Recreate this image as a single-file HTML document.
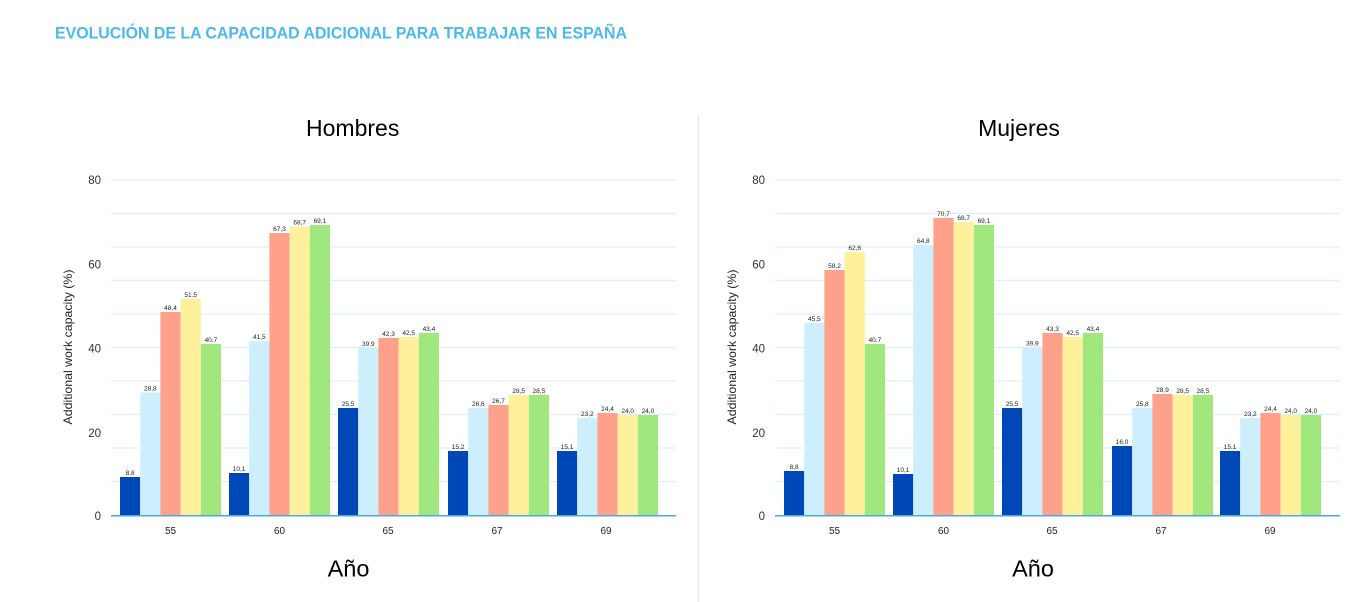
<!DOCTYPE html>
<html><head><meta charset="utf-8"><style>
html,body{margin:0;padding:0;background:#fff;}
svg{display:block;font-family:"Liberation Sans",sans-serif;}
</style></head><body>
<svg width="1371" height="602" viewBox="0 0 1371 602" xmlns="http://www.w3.org/2000/svg">
<text x="55" y="38.3" font-size="16.5" font-weight="bold" fill="#4cb8f0" textLength="572" lengthAdjust="spacingAndGlyphs">EVOLUCIÓN DE LA CAPACIDAD ADICIONAL PARA TRABAJAR EN ESPAÑA</text>
<line x1="698.5" y1="115" x2="698.5" y2="602" stroke="#d5ecf8" stroke-width="1.2"/>

<!-- LEFT CHART -->
<g>
<text x="352.7" y="136" font-size="23" text-anchor="middle" fill="#000">Hombres</text>
<g stroke="#dcf0fa" stroke-width="1.2">
<line x1="111" y1="180" x2="676" y2="180"/><line x1="111" y1="213.5" x2="676" y2="213.5"/><line x1="111" y1="247" x2="676" y2="247"/><line x1="111" y1="280.5" x2="676" y2="280.5"/><line x1="111" y1="314" x2="676" y2="314"/><line x1="111" y1="347.5" x2="676" y2="347.5"/><line x1="111" y1="381" x2="676" y2="381"/><line x1="111" y1="414.5" x2="676" y2="414.5"/><line x1="111" y1="448" x2="676" y2="448"/><line x1="111" y1="481.5" x2="676" y2="481.5"/>
</g>
<g font-size="11.5" fill="#333" text-anchor="end">
<text x="101" y="184">80</text><text x="101" y="268.3">60</text><text x="101" y="352.7">40</text><text x="101" y="437">20</text><text x="101" y="520">0</text>
</g>
<text transform="translate(72,347) rotate(-90)" font-size="12" fill="#222" text-anchor="middle" textLength="155" lengthAdjust="spacingAndGlyphs">Additional work capacity (%)</text>
<g>
<rect x="120" y="477" width="20.2" height="38.3" fill="#0047b8"/>
<rect x="140.2" y="392.5" width="20.2" height="122.8" fill="#cdeefd"/>
<rect x="160.4" y="312" width="20.2" height="203.3" fill="#ffa18a"/>
<rect x="180.6" y="299" width="20.2" height="216.3" fill="#fff09b"/>
<rect x="200.8" y="344" width="20.2" height="171.3" fill="#a0e87e"/>

<rect x="229" y="473" width="20.2" height="42.3" fill="#0047b8"/>
<rect x="249.2" y="341" width="20.2" height="174.3" fill="#cdeefd"/>
<rect x="269.4" y="233" width="20.2" height="282.3" fill="#ffa18a"/>
<rect x="289.6" y="226.5" width="20.2" height="288.8" fill="#fff09b"/>
<rect x="309.8" y="225" width="20.2" height="290.3" fill="#a0e87e"/>

<rect x="338" y="408" width="20.2" height="107.3" fill="#0047b8"/>
<rect x="358.2" y="348" width="20.2" height="167.3" fill="#cdeefd"/>
<rect x="378.4" y="338" width="20.2" height="177.3" fill="#ffa18a"/>
<rect x="398.6" y="337" width="20.2" height="178.3" fill="#fff09b"/>
<rect x="418.8" y="333" width="20.2" height="182.3" fill="#a0e87e"/>

<rect x="448" y="451" width="20.2" height="64.3" fill="#0047b8"/>
<rect x="468.2" y="408" width="20.2" height="107.3" fill="#cdeefd"/>
<rect x="488.4" y="405" width="20.2" height="110.3" fill="#ffa18a"/>
<rect x="508.6" y="395" width="20.2" height="120.3" fill="#fff09b"/>
<rect x="528.8" y="395" width="20.2" height="120.3" fill="#a0e87e"/>

<rect x="557" y="451" width="20.2" height="64.3" fill="#0047b8"/>
<rect x="577.2" y="418" width="20.2" height="97.3" fill="#cdeefd"/>
<rect x="597.4" y="413" width="20.2" height="102.3" fill="#ffa18a"/>
<rect x="617.6" y="415" width="20.2" height="100.3" fill="#fff09b"/>
<rect x="637.8" y="415" width="20.2" height="100.3" fill="#a0e87e"/>
</g>
<g font-size="6.5" fill="#222" text-anchor="middle">
<text x="130.1" y="475">8,8</text><text x="150.3" y="390.5">28,8</text><text x="170.5" y="310">48,4</text><text x="190.7" y="297">51.5</text><text x="210.9" y="342">40.7</text>
<text x="239.1" y="471">10,1</text><text x="259.3" y="339">41,5</text><text x="279.5" y="231">67,3</text><text x="299.7" y="224.5">68,7</text><text x="319.9" y="223">69,1</text>
<text x="348.1" y="406">25,5</text><text x="368.3" y="346">39.9</text><text x="388.5" y="336">42,3</text><text x="408.7" y="335">42,5</text><text x="428.9" y="331">43,4</text>
<text x="458.1" y="449">15,2</text><text x="478.3" y="406">26,6</text><text x="498.5" y="403">26,7</text><text x="518.7" y="393">28,5</text><text x="538.9" y="393">28,5</text>
<text x="567.1" y="449">15,1</text><text x="587.3" y="416">23,2</text><text x="607.5" y="411">24,4</text><text x="627.7" y="413">24,0</text><text x="647.9" y="413">24,0</text>
</g>
<line x1="111" y1="515.8" x2="676" y2="515.8" stroke="#4aa8e0" stroke-width="1.5"/>
<g font-size="10" fill="#222" text-anchor="middle">
<text x="170.5" y="534">55</text><text x="279.5" y="534">60</text><text x="388" y="534">65</text><text x="497" y="534">67</text><text x="606" y="534">69</text>
</g>
<text x="348.5" y="576.7" font-size="23.5" text-anchor="middle" fill="#000">Año</text>
</g>

<!-- RIGHT CHART -->
<g>
<text x="1019" y="136" font-size="23" text-anchor="middle" fill="#000">Mujeres</text>
<g stroke="#dcf0fa" stroke-width="1.2">
<line x1="775" y1="180" x2="1340" y2="180"/><line x1="775" y1="213.5" x2="1340" y2="213.5"/><line x1="775" y1="247" x2="1340" y2="247"/><line x1="775" y1="280.5" x2="1340" y2="280.5"/><line x1="775" y1="314" x2="1340" y2="314"/><line x1="775" y1="347.5" x2="1340" y2="347.5"/><line x1="775" y1="381" x2="1340" y2="381"/><line x1="775" y1="414.5" x2="1340" y2="414.5"/><line x1="775" y1="448" x2="1340" y2="448"/><line x1="775" y1="481.5" x2="1340" y2="481.5"/>
</g>
<g font-size="11.5" fill="#333" text-anchor="end">
<text x="765" y="184">80</text><text x="765" y="268.3">60</text><text x="765" y="352.7">40</text><text x="765" y="437">20</text><text x="765" y="520">0</text>
</g>
<text transform="translate(736,347) rotate(-90)" font-size="12" fill="#222" text-anchor="middle" textLength="155" lengthAdjust="spacingAndGlyphs">Additional work capacity (%)</text>
<g>
<rect x="784" y="471" width="20.2" height="44.3" fill="#0047b8"/>
<rect x="804.2" y="323" width="20.2" height="192.3" fill="#cdeefd"/>
<rect x="824.4" y="270" width="20.2" height="245.3" fill="#ffa18a"/>
<rect x="844.6" y="252" width="20.2" height="263.3" fill="#fff09b"/>
<rect x="864.8" y="344" width="20.2" height="171.3" fill="#a0e87e"/>

<rect x="893" y="474" width="20.2" height="41.3" fill="#0047b8"/>
<rect x="913.2" y="245" width="20.2" height="270.3" fill="#cdeefd"/>
<rect x="933.4" y="218" width="20.2" height="297.3" fill="#ffa18a"/>
<rect x="953.6" y="222" width="20.2" height="293.3" fill="#fff09b"/>
<rect x="973.8" y="225" width="20.2" height="290.3" fill="#a0e87e"/>

<rect x="1002" y="408" width="20.2" height="107.3" fill="#0047b8"/>
<rect x="1022.2" y="347.7" width="20.2" height="167.6" fill="#cdeefd"/>
<rect x="1042.4" y="333" width="20.2" height="182.3" fill="#ffa18a"/>
<rect x="1062.6" y="337" width="20.2" height="178.3" fill="#fff09b"/>
<rect x="1082.8" y="333" width="20.2" height="182.3" fill="#a0e87e"/>

<rect x="1112" y="446" width="20.2" height="69.3" fill="#0047b8"/>
<rect x="1132.2" y="408" width="20.2" height="107.3" fill="#cdeefd"/>
<rect x="1152.4" y="394" width="20.2" height="121.3" fill="#ffa18a"/>
<rect x="1172.6" y="395" width="20.2" height="120.3" fill="#fff09b"/>
<rect x="1192.8" y="395" width="20.2" height="120.3" fill="#a0e87e"/>

<rect x="1220" y="451" width="20.2" height="64.3" fill="#0047b8"/>
<rect x="1240.2" y="418" width="20.2" height="97.3" fill="#cdeefd"/>
<rect x="1260.4" y="413" width="20.2" height="102.3" fill="#ffa18a"/>
<rect x="1280.6" y="415" width="20.2" height="100.3" fill="#fff09b"/>
<rect x="1300.8" y="415" width="20.2" height="100.3" fill="#a0e87e"/>
</g>
<g font-size="6.5" fill="#222" text-anchor="middle">
<text x="794.1" y="469">8,8</text><text x="814.3" y="321">45,5</text><text x="834.5" y="268">58,2</text><text x="854.7" y="250">62,6</text><text x="874.9" y="342">40.7</text>
<text x="903.1" y="472">10,1</text><text x="923.3" y="243">64,8</text><text x="943.5" y="216">70,7</text><text x="963.7" y="220">68,7</text><text x="983.9" y="223">69,1</text>
<text x="1012.1" y="406">25,5</text><text x="1032.3" y="345.7">39.9</text><text x="1052.5" y="331">43,3</text><text x="1072.7" y="335">42,5</text><text x="1092.9" y="331">43,4</text>
<text x="1122.1" y="444">16,0</text><text x="1142.3" y="406">25,8</text><text x="1162.5" y="392">28,9</text><text x="1182.7" y="393">28,5</text><text x="1202.9" y="393">28,5</text>
<text x="1230.1" y="449">15,1</text><text x="1250.3" y="416">23,2</text><text x="1270.5" y="411">24,4</text><text x="1290.7" y="413">24,0</text><text x="1310.9" y="413">24,0</text>
</g>
<line x1="775" y1="515.8" x2="1340" y2="515.8" stroke="#4aa8e0" stroke-width="1.5"/>
<g font-size="10" fill="#222" text-anchor="middle">
<text x="834.5" y="534">55</text><text x="943.5" y="534">60</text><text x="1052" y="534">65</text><text x="1161" y="534">67</text><text x="1270" y="534">69</text>
</g>
<text x="1033" y="576.7" font-size="23.5" text-anchor="middle" fill="#000">Año</text>
</g>
</svg>
</body></html>
